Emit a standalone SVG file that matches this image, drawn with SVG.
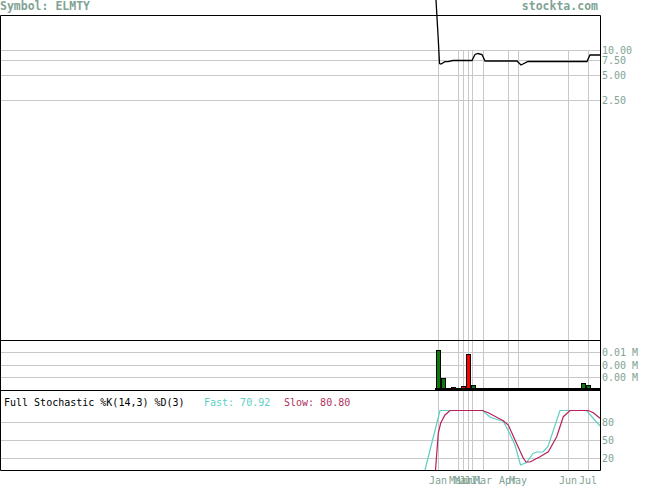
<svg xmlns="http://www.w3.org/2000/svg" width="655" height="486" viewBox="0 0 655 486">
<style>
.t{font-family:"DejaVu Sans Mono","Liberation Mono",monospace;font-size:10px;fill:#7fa394}
.tb{font-family:"DejaVu Sans Mono","Liberation Mono",monospace;font-size:11.5px;font-weight:bold;fill:#7fa394}
.g{stroke:#c8c8c8;stroke-width:1;fill:none}
.f{stroke:#000;stroke-width:1;fill:none}
.vg{fill:#0a7a0a;stroke:#000;stroke-width:1}
.vr{fill:#ff0000;stroke:#000;stroke-width:1}
</style>
<rect x="0" y="0" width="655" height="486" fill="#fff"/>
<g id="header">
<text class="tb" x="0" y="10">Symbol: ELMTY</text>
<text class="tb" x="598" y="10" text-anchor="end">stockta.com</text>
</g>
<g id="price-panel">
<path class="g" d="M0,50.5H600M0,60.5H600M0,75.5H600M0,100.5H600"/>
<path class="g" d="M438.5,50V340M458.5,50V340M463.5,50V340M468.5,50V340M472.5,50V340M483.5,50V340M508.5,50V340M518.5,50V340M568.5,50V340M588.5,50V340"/>
<path fill="none" stroke="#000" stroke-width="1.3" d="M436,0L438.3,40L439.5,63.5L441,64L445,61.7L448,61.7L453,60.5L472,60.5L475,54.5L478,53.5L482,54.5L485,61L517,61L521,65L528,61.5L587,61.5L590,55L600,55"/>
<text class="t" x="602" y="53.5">10.00</text>
<text class="t" x="602" y="63.5">7.50</text>
<text class="t" x="602" y="78.5">5.00</text>
<text class="t" x="602" y="103.5">2.50</text>
</g>
<g id="volume-panel">
<path class="g" d="M0,352.5H600M0,365.5H600M0,377.5H600"/>
<path class="g" d="M438.5,340V390M458.5,340V390M463.5,340V390M468.5,340V390M472.5,340V390M483.5,340V390M508.5,340V390M518.5,340V390M568.5,340V390M588.5,340V390"/>
<rect class="vg" x="436.5" y="350.5" width="4" height="38.5"/>
<rect class="vg" x="441.5" y="378.5" width="4" height="10.5"/>
<rect class="vg" x="451.5" y="387.5" width="4" height="1.5"/>
<rect class="vr" x="461.5" y="386.5" width="4" height="2.5"/>
<rect class="vr" x="466.5" y="354.5" width="4" height="34.5"/>
<rect class="vg" x="471.5" y="385.5" width="4" height="3.5"/>
<rect class="vg" x="581.5" y="383.5" width="4" height="5.5"/>
<rect class="vg" x="586.5" y="385.5" width="4" height="3.5"/>
<path stroke="#000" stroke-width="2" d="M435,389H600"/>
<text class="t" x="602" y="355.5">0.01 M</text>
<text class="t" x="602" y="368.5">0.00 M</text>
<text class="t" x="602" y="381">0.00 M</text>
</g>
<g id="stochastic-panel">
<path class="g" d="M0,422.5H600M0,440.5H600M0,458.5H600"/>
<path class="g" d="M438.5,390V470M458.5,390V470M463.5,390V470M468.5,390V470M472.5,390V470M483.5,390V470M508.5,390V470M568.5,390V470M588.5,390V470"/>
<text font-family="DejaVu Sans Mono,Liberation Mono,monospace" font-size="10" x="4" y="406" fill="#000">Full Stochastic %K(14,3) %D(3)</text>
<text font-family="DejaVu Sans Mono,Liberation Mono,monospace" font-size="10" x="204" y="406" fill="#5ccfc4">Fast: 70.92</text>
<text font-family="DejaVu Sans Mono,Liberation Mono,monospace" font-size="10" x="284" y="406" fill="#b03060">Slow: 80.80</text>
<polyline fill="none" stroke="#5ccfc4" stroke-width="1.2" points="425,470 440,410.5 482.5,410.5 490,417 500,420.5 503,421 508,430 515,445 520.5,465 526.5,462.5 533,453.5 537,452 543,452 548,446.5 560,410.5 586.5,410.5 600,426"/>
<polyline fill="none" stroke="#b8205a" stroke-width="1.2" points="435.5,470 438.3,433 440.7,423 445,415 450,410.5 482.5,410.5 488.3,412.7 496.7,417.3 503.3,420.7 508.3,425 515,440 523.3,458.3 526,462 530,462 540,456.7 548.3,451.7 556.7,436.7 563.3,416.7 570,410.5 588.3,410.5 593.3,412.7 600,418.3"/>
<text class="t" x="602" y="425.5">80</text>
<text class="t" x="602" y="443.5">50</text>
<text class="t" x="602" y="461.5">20</text>
</g>
<g id="frame">
<path class="f" d="M0.5,15.5H600.5V470.5H0.5ZM0.5,340.5H600.5M0.5,390.5H600.5"/>
</g>
<g id="x-axis">
<text class="t" x="438" y="484" text-anchor="middle">Jan</text>
<text class="t" x="458" y="484" text-anchor="middle">Mar</text>
<text class="t" x="463" y="484" text-anchor="middle">Mar</text>
<text class="t" x="468" y="484" text-anchor="middle">Jul</text>
<text class="t" x="473" y="484" text-anchor="middle">Jul</text>
<text class="t" x="483" y="484" text-anchor="middle">Mar</text>
<text class="t" x="508" y="484" text-anchor="middle">Apr</text>
<text class="t" x="518" y="484" text-anchor="middle">May</text>
<text class="t" x="568" y="484" text-anchor="middle">Jun</text>
<text class="t" x="588" y="484" text-anchor="middle">Jul</text>
</g>
</svg>
